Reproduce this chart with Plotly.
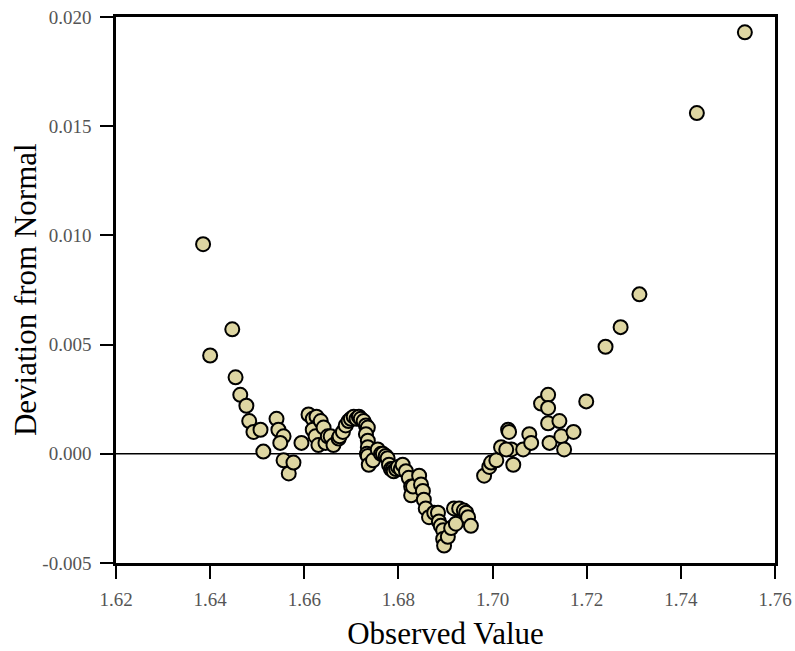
import plotly.graph_objects as go

obs_left = [1.6385, 1.6400, 1.6447, 1.6454, 1.6464, 1.6477, 1.6483, 1.6492, 1.6507, 1.6513,
            1.6541, 1.6545, 1.6556, 1.6549, 1.6556, 1.6567, 1.6577, 1.6594]
dev_left = [0.0096, 0.0045, 0.0057, 0.0035, 0.0027, 0.0022, 0.0015, 0.0010, 0.0011, 0.0001,
            0.0016, 0.0011, 0.0008, 0.0005, -0.0003, -0.0009, -0.0004, 0.0005]

obs_mid = [1.6609, 1.6618, 1.6626, 1.6630, 1.6618, 1.6624, 1.6630, 1.6635, 1.6641, 1.6645,
           1.6650, 1.6656, 1.6662, 1.6673, 1.6675, 1.6682, 1.6688, 1.6694, 1.6699, 1.6705,
           1.6711, 1.6716, 1.6720, 1.6726, 1.6731, 1.6735, 1.6731, 1.6735, 1.6735, 1.6733,
           1.6735, 1.6737, 1.6746, 1.6756, 1.6763, 1.6767, 1.6773, 1.6777, 1.6780, 1.6784,
           1.6788, 1.6790, 1.6795, 1.6799, 1.6805, 1.6809, 1.6816, 1.6822, 1.6827, 1.6827,
           1.6831, 1.6844, 1.6848, 1.6852, 1.6854, 1.6858, 1.6865, 1.6876, 1.6884, 1.6886,
           1.6890, 1.6895, 1.6895, 1.6897, 1.6905, 1.6912, 1.6918, 1.6922, 1.6929, 1.6939,
           1.6944, 1.6948, 1.6954]
dev_mid = [0.0018, 0.0016, 0.0017, 0.0013, 0.0011, 0.0008, 0.0004, 0.0015, 0.0012, 0.0005,
           0.0008, 0.0008, 0.0004, 0.0007, 0.0008, 0.0010, 0.0013, 0.0015, 0.0016, 0.0017,
           0.0016, 0.0017, 0.0016, 0.0015, 0.0013, 0.0012, 0.0009, 0.0006, 0.0003, 0.0000,
           -0.0001, -0.0005, -0.0003, 0.0002, 0.0000, 0.0000, -0.0001, -0.0002, -0.0005, -0.0007,
           -0.0007, -0.0008, -0.0007, -0.0006, -0.0007, -0.0005, -0.0008, -0.0011, -0.0015, -0.0019,
           -0.0015, -0.0010, -0.0014, -0.0017, -0.0021, -0.0025, -0.0029, -0.0027, -0.0027, -0.0031,
           -0.0033, -0.0035, -0.0039, -0.0042, -0.0038, -0.0034, -0.0025, -0.0032, -0.0025, -0.0026,
           -0.0027, -0.0029, -0.0033]

obs_right = [1.6982, 1.6993, 1.6997, 1.7008, 1.7044, 1.7018, 1.7033, 1.7035, 1.7040, 1.7029,
             1.7065, 1.7078, 1.7082, 1.7103, 1.7118, 1.7118, 1.7118, 1.7121, 1.7142, 1.7146,
             1.7152, 1.7172, 1.7199, 1.7240, 1.7272, 1.7312, 1.7434, 1.7536]
dev_right = [-0.0010, -0.0006, -0.0004, -0.0003, -0.0005, 0.0003, 0.0011, 0.0010, 0.0002, 0.0002,
             0.0002, 0.0009, 0.0005, 0.0023, 0.0027, 0.0021, 0.0014, 0.0005, 0.0015, 0.0008,
             0.0002, 0.0010, 0.0024, 0.0049, 0.0058, 0.0073, 0.0156, 0.0193]

x_ticks = [1.62, 1.64, 1.66, 1.68, 1.70, 1.72, 1.74, 1.76]
x_tick_labels = ["1.62", "1.64", "1.66", "1.68", "1.70", "1.72", "1.74", "1.76"]
y_ticks = [-0.005, 0.000, 0.005, 0.010, 0.015, 0.020]
y_tick_labels = ["-0.005", "0.000", "0.005", "0.010", "0.015", "0.020"]

observed = obs_left + obs_mid + obs_right
deviation = dev_left + dev_mid + dev_right

fig = go.Figure()
fig.add_trace(go.Scatter(
    x=observed, y=deviation, mode="markers",
    marker=dict(size=14, color="rgb(222,214,162)",
                line=dict(color="black", width=2)),
    showlegend=False, cliponaxis=False,
))

fig.add_shape(type="line", xref="paper", yref="y", x0=0, x1=1, y0=0, y1=0,
              line=dict(color="black", width=1.5), layer="below")

serif = "Liberation Serif, Times New Roman, serif"

fig.add_annotation(text="Deviation from Normal", xref="paper", yref="paper",
                   x=-0.138, y=0.5, xanchor="center", yanchor="middle",
                   textangle=-90, showarrow=False,
                   font=dict(family=serif, size=31, color="black"))

fig.update_layout(
    width=795, height=651,
    margin=dict(l=116, r=20, t=17, b=88),
    paper_bgcolor="white", plot_bgcolor="white",
    font=dict(family=serif, color="black"),
    xaxis=dict(
        range=[1.62, 1.76], tickvals=x_ticks, ticktext=x_tick_labels,
        showgrid=False, zeroline=False, automargin=False,
        showline=True, linecolor="black", linewidth=2.5, mirror=True,
        ticks="outside", ticklen=13, tickwidth=2, tickcolor="black",
        ticklabelstandoff=4,
        tickfont=dict(family=serif, size=19, color="#555555"),
        title=dict(text="Observed Value", font=dict(family=serif, size=31, color="black")),
    ),
    yaxis=dict(
        range=[-0.005, 0.020], tickvals=y_ticks, ticktext=y_tick_labels,
        showgrid=False, zeroline=False, automargin=False,
        showline=True, linecolor="black", linewidth=2.5, mirror=True,
        ticks="outside", ticklen=13, tickwidth=2, tickcolor="black",
        ticklabelstandoff=5,
        tickfont=dict(family=serif, size=19, color="#555555"),
    ),
)

fig.write_html("out.html", config={"displayModeBar": False},
               post_script="document.body.style.margin='0';")
